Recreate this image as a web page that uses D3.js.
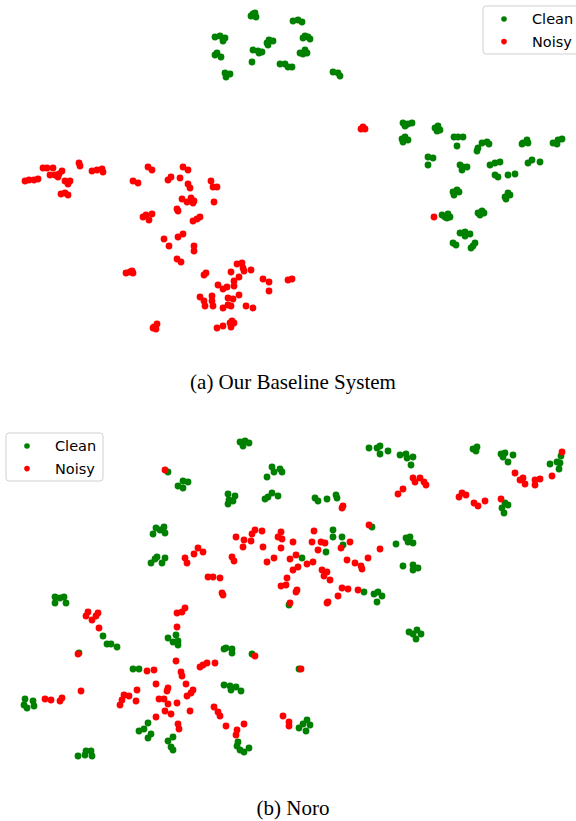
<!DOCTYPE html>
<html>
<head>
<meta charset="utf-8">
<script src="https://cdn.jsdelivr.net/npm/d3@7"></script>
<style>
  body { margin: 0; background: #fff; }
  svg { display: block; }
</style>
</head>
<body>
<div id="chart"></div>
<script>
// t-SNE coordinates (arbitrary embedding units)
var baselineClean = [
  [253,14],[256,17],[251,16],[255,13],
  [293,21],[298,20],[302,22],
  [215,37],[220,36],[225,38],[223,41],
  [215,55],[217,53],[221,57],
  [225,73],[230,74],[226,77],
  [252,62],
  [253,50],[258,51],[262,52],[259,53],
  [267,43],[269,40],[273,41],[268,45],
  [280,64],[285,64],[288,67],
  [305,36],[308,37],[303,38],[310,39],
  [300,53],[305,50],[307,53],[303,54],
  [292,67],
  [333,72],[338,73],[340,76],
  [403,123],[408,124],[412,123],[405,126],
  [402,139],[405,137],[408,140],[403,142],
  [435,128],[438,126],[437,131],[440,130],
  [454,137],[458,137],[463,137],[457,146],
  [478,148],[482,143],[487,142],[489,144],[477,151],
  [523,143],[527,140],[528,143],[522,144],
  [553,143],[558,140],[562,139],[557,144],
  [428,157],[433,158],[428,165],
  [460,165],[463,167],[467,167],[462,170],
  [490,165],[495,163],[500,162],
  [528,163],[532,160],[540,162],
  [495,175],[498,177],[508,175],[515,174],
  [453,192],[457,190],[459,192],[454,195],
  [505,197],[508,193],[510,195],[506,199],
  [442,215],[445,217],[448,214],[450,217],[447,218],
  [478,213],[482,211],[484,213],[480,215],
  [460,233],[465,232],[470,234],[465,236],
  [453,243],[456,245],
  [471,248],[475,243],[473,246]
];

var baselineNoisy = [
  [363,127],[361,129],[365,129],
  [43,168],[47,168],[53,168],
  [50,175],[55,175],[59,174],[62,171],[58,177],
  [79,163],[80,166],
  [92,171],[97,170],[102,169],[103,172],
  [25,181],[29,180],[34,180],[38,179],
  [65,181],[68,184],[70,181],
  [61,194],[65,193],[68,195],
  [148,167],[152,170],
  [133,181],[138,183],
  [168,180],[171,177],[180,178],
  [183,167],[188,170],
  [188,184],[190,188],
  [211,181],[213,187],[217,187],
  [182,199],[187,202],[191,198],[194,201],[193,203],
  [214,202],
  [177,209],[178,211],
  [143,217],[146,215],[152,214],[149,220],
  [193,221],[197,219],[200,217],
  [164,239],[169,246],
  [178,237],[183,234],
  [194,246],[194,251],
  [177,259],[181,262],
  [126,273],[130,272],[133,273],[132,271],
  [204,275],[206,273],
  [237,264],[242,263],[243,268],[244,271],[251,270],[231,272],
  [239,277],[234,281],[234,286],
  [218,285],[223,289],[227,287],
  [263,279],[269,282],[269,291],
  [288,280],[292,279],
  [200,297],[204,301],[205,306],[212,296],[212,301],[213,306],
  [228,298],[233,299],[239,295],
  [223,308],[228,305],[231,306],
  [246,306],[253,308],
  [154,327],[157,324],[153,328],[156,329],
  [217,328],[223,326],[230,323],[232,321],[234,323],[231,327],
  [434,217]
];

var noroClean = [
  [240,442],[245,441],[249,443],[243,446],
  [272,467],[274,472],[280,469],[282,472],[267,477],
  [265,499],[268,497],[272,493],[278,496],
  [228,494],[235,496],[229,500],[233,501],[228,504],
  [183,481],[188,482],[178,486],[183,488],
  [168,472],
  [156,528],[160,530],[164,527],[153,534],[165,533],
  [157,557],[155,559],[165,558],[162,563],[151,563],
  [55,597],[60,598],[64,597],[55,603],[66,603],
  [289,605],
  [369,448],[377,448],[380,446],[380,454],[388,451],
  [400,455],[406,454],[407,458],[413,457],[411,465],
  [473,449],[477,447],[476,451],
  [501,454],[505,453],[503,457],[513,455],[508,462],
  [550,464],[557,462],[560,463],[561,456],[559,469],
  [505,503],[508,505],[502,508],[504,513],
  [315,498],[318,501],[327,499],[336,495],[337,498],
  [333,530],[333,537],[342,537],[343,545],[326,552],
  [372,527],
  [406,538],[410,537],[408,542],[413,543],[396,544],
  [302,558],
  [403,566],[413,565],[413,570],[418,568],
  [364,592],[374,594],[378,592],[382,596],[377,602],
  [103,636],[107,644],[111,644],[117,647],
  [79,653],
  [168,638],[173,642],[176,635],[178,641],[178,645],
  [224,649],[226,648],[232,649],[232,653],
  [252,654],
  [133,669],[139,669],
  [224,685],[230,686],[236,687],[231,690],[241,691],
  [25,699],[33,701],[24,705],[27,708],[34,706],
  [148,723],[144,729],[139,731],[151,734],[148,738],
  [173,737],[168,741],[171,747],[173,750],
  [238,742],[237,746],[240,750],[244,752],[249,748],
  [86,751],[91,751],[78,756],[85,755],[92,756],
  [409,632],[413,634],[417,630],[421,634],[416,639],
  [299,669],
  [299,728],[303,724],[307,720],[310,725],[306,731]
];

var noroNoisy = [
  [165,470],
  [236,537],[244,540],[252,534],[255,530],[262,531],[243,547],[251,541],
  [281,532],[278,537],[282,539],[281,548],
  [263,547],
  [267,562],[274,558],
  [198,548],[194,554],[203,552],[185,558],[187,563],
  [232,557],[234,561],
  [208,577],[213,577],[220,578],
  [222,593],[223,595],
  [287,578],[286,585],[281,586],
  [185,608],
  [413,478],[420,478],[415,482],[424,482],[426,485],
  [403,489],[398,494],
  [515,473],[520,480],[523,478],[525,484],[535,480],[540,479],[535,485],[552,476],[562,452],
  [459,497],[462,493],[466,495],
  [474,503],[478,506],[485,501],
  [501,499],
  [342,508],[343,506],
  [314,531],[293,542],[312,542],[321,542],[325,543],[318,550],[341,548],[350,542],[380,549],
  [369,525],
  [296,555],[290,559],
  [368,558],[347,560],[355,563],[361,566],[362,569],
  [307,564],[313,562],[298,567],[293,570],
  [322,570],[327,572],[324,576],[330,580],
  [342,588],[348,589],[358,590],
  [338,596],[296,592],[297,590],[328,602],[327,603],[290,603],
  [86,616],[88,612],[92,620],[96,616],[98,613],
  [99,628],
  [177,613],[182,612],
  [177,627],
  [78,654],
  [255,656],
  [176,661],
  [181,672],[182,676],
  [147,671],[154,670],
  [200,667],[203,665],[207,663],[215,663],
  [81,691],
  [45,699],[51,700],[60,701],[62,698],
  [124,695],[129,696],[122,700],[120,705],[136,701],[137,690],
  [156,684],[167,691],[168,688],
  [159,699],[164,699],[168,704],[177,703],
  [186,684],[193,690],[191,693],[187,696],
  [165,711],[171,714],[190,711],[156,717],
  [178,724],[179,729],
  [214,707],[218,712],[220,716],
  [226,726],[237,730],[236,735],[244,724],
  [283,716],[289,722],[289,726],
  [301,669]
];

var classNames = ["Clean", "Noisy"];
var classColors = ["#008000", "#ff0000"];
var captions = ["(a) Our Baseline System", "(b) Noro"];

function init() {
    var width = 576, height = 821;

    var SVG = d3.select("#chart")
        .append("svg")
        .attr("width", width)
        .attr("height", height);

    var color = d3.scaleOrdinal()
        .domain(classNames)
        .range(classColors);

    var panels = [
        { top: 0,   yDomain: [0, 360],   clean: baselineClean, noisy: baselineNoisy, legendX: 483, legendY: 6,   caption: captions[0], capY: 389 },
        { top: 430, yDomain: [430, 790], clean: noroClean,     noisy: noroNoisy,     legendX: 6,   legendY: 433, caption: captions[1], capY: 815 }
    ];

    panels.forEach(function (p) {
        var x = d3.scaleLinear().domain([0, 576]).range([0, width]);
        var y = d3.scaleLinear().domain(p.yDomain).range([0, 360]);

        var g = SVG.append("g")
            .attr("transform", "translate(0," + p.top + ")");

        var series = [
            { name: "Clean", pts: p.clean },
            { name: "Noisy", pts: p.noisy }
        ];

        series.forEach(function (s) {
            g.append("g")
                .selectAll("circle")
                .data(s.pts)
                .enter()
                .append("circle")
                .attr("cx", function (d) { return x(d[0]); })
                .attr("cy", function (d) { return y(d[1]); })
                .attr("r", 3.4)
                .attr("fill", color(s.name));
        });

        // legend
        var lg = SVG.append("g")
            .attr("transform", "translate(" + p.legendX + "," + p.legendY + ")");
        lg.append("rect")
            .attr("width", 97)
            .attr("height", 48)
            .attr("rx", 3)
            .attr("fill", "white")
            .attr("fill-opacity", 0.8)
            .attr("stroke", "#d0d0d0")
            .attr("stroke-width", 1);
        classNames.forEach(function (name, i) {
            lg.append("circle")
                .attr("cx", 21)
                .attr("cy", 13 + i * 22.6)
                .attr("r", 2.8)
                .attr("fill", color(name));
            lg.append("text")
                .attr("x", 49)
                .attr("y", 13 + i * 22.6)
                .attr("dy", "0.36em")
                .style("font-family", "DejaVu Sans, sans-serif")
                .style("font-size", "14.5px")
                .style("fill", "#000")
                .text(name);
        });

        SVG.append("text")
            .attr("x", 293)
            .attr("y", p.capY)
            .attr("text-anchor", "middle")
            .style("font-family", "Liberation Serif, Times New Roman, serif")
            .style("font-size", "21px")
            .style("fill", "#000")
            .text(p.caption);
    });
}

window.onload = init;
</script>
</body>
</html>
